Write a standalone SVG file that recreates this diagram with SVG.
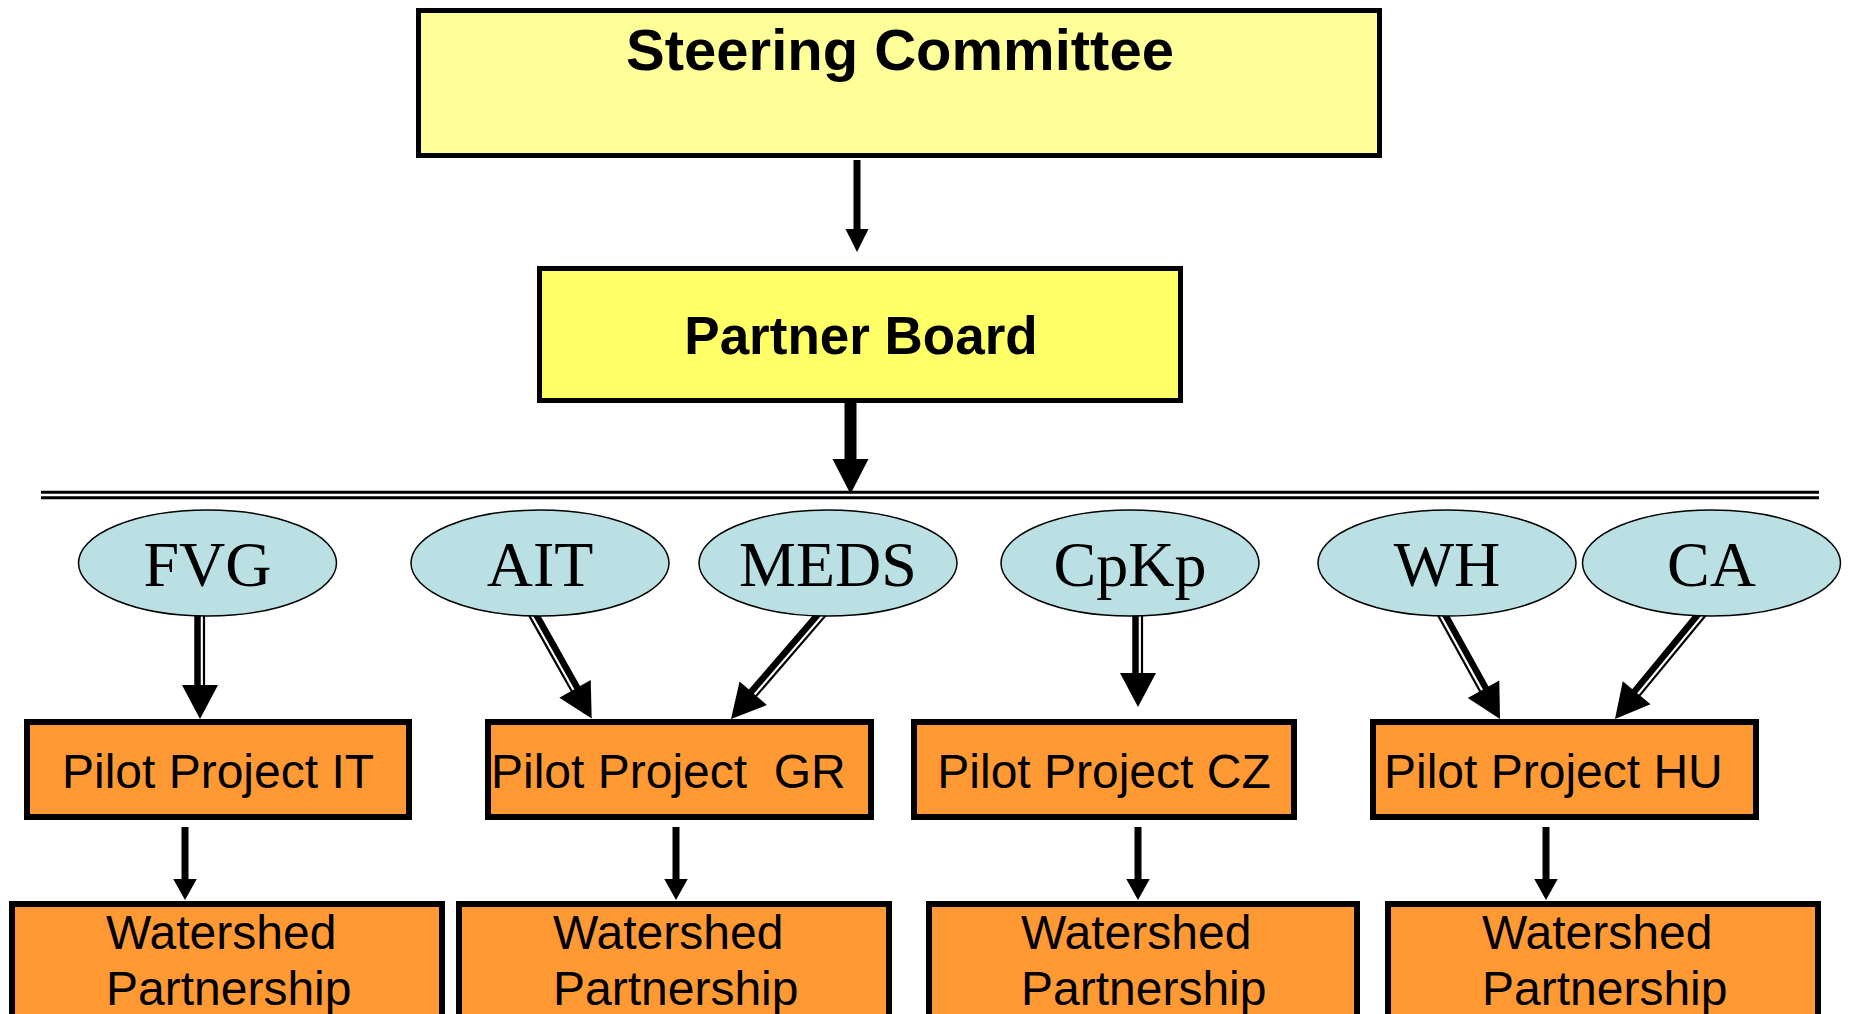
<svg xmlns="http://www.w3.org/2000/svg" width="1852" height="1014" viewBox="0 0 1852 1014">
<style>
.box{stroke:#000;stroke-width:5}
.pilot{fill:#FF9933;stroke:#000;stroke-width:6}
.ell{fill:#BAE0E3;stroke:#000;stroke-width:1.5}
.sans{font-family:"Liberation Sans",Arial,sans-serif;fill:#000}
.bold{font-weight:bold}
.serif{font-family:"Liberation Serif","Times New Roman",serif;font-size:64px;fill:#000;text-anchor:middle}
.lbl{font-size:48px}
.thick{stroke:#000;stroke-width:6.5;fill:none}
.thin{stroke:#000;stroke-width:2.2;fill:none}
.head{fill:#000}
</style>
<defs>
<polygon id="dhead" points="-18,-34 18,-34 0,0"/>
<polygon id="shead" points="-11.75,-21 11.75,-21 0,0"/>
</defs>
<g id="connectors">
<line x1="857" y1="160" x2="857" y2="231" stroke="#000" stroke-width="7"/>
<polygon class="head" points="845.5,229 868.5,229 857,252"/>
<line x1="850.5" y1="403" x2="850.5" y2="461" stroke="#000" stroke-width="12"/>
<polygon class="head" points="832.5,459 868.5,459 850.5,494"/>
<line x1="41" y1="492.3" x2="1819" y2="492.3" stroke="#000" stroke-width="3"/>
<line x1="41" y1="497.8" x2="1819" y2="497.8" stroke="#000" stroke-width="3"/>
<g transform="translate(200,719)">
<line class="thick" x1="-2.5" y1="-112" x2="-2.5" y2="-32"/>
<line class="thin" x1="4" y1="-112" x2="4" y2="-32"/>
<use href="#dhead" class="head"/>
</g>
<g transform="translate(591.7,718.5) rotate(-29.37)">
<line class="thick" x1="2.5" y1="-124" x2="2.5" y2="-32"/>
<line class="thin" x1="-4" y1="-124" x2="-4" y2="-32"/>
<use href="#dhead" class="head"/>
</g>
<g transform="translate(731,719) rotate(40.79)">
<line class="thick" x1="-2.5" y1="-141" x2="-2.5" y2="-32"/>
<line class="thin" x1="4" y1="-141" x2="4" y2="-32"/>
<use href="#dhead" class="head"/>
</g>
<g transform="translate(1138,707)">
<line class="thick" x1="-2.5" y1="-97" x2="-2.5" y2="-32"/>
<line class="thin" x1="4" y1="-97" x2="4" y2="-32"/>
<use href="#dhead" class="head"/>
</g>
<g transform="translate(1500,719) rotate(-28.95)">
<line class="thick" x1="2.5" y1="-124" x2="2.5" y2="-32"/>
<line class="thin" x1="-4" y1="-124" x2="-4" y2="-32"/>
<use href="#dhead" class="head"/>
</g>
<g transform="translate(1615,719) rotate(39.53)">
<line class="thick" x1="-2.5" y1="-140" x2="-2.5" y2="-32"/>
<line class="thin" x1="4" y1="-140" x2="4" y2="-32"/>
<use href="#dhead" class="head"/>
</g>
<g transform="translate(185,900)">
<line x1="0" y1="-73" x2="0" y2="-19" stroke="#000" stroke-width="7"/>
<use href="#shead" class="head"/>
</g>
<g transform="translate(676,900)">
<line x1="0" y1="-73" x2="0" y2="-19" stroke="#000" stroke-width="7"/>
<use href="#shead" class="head"/>
</g>
<g transform="translate(1138,900)">
<line x1="0" y1="-73" x2="0" y2="-19" stroke="#000" stroke-width="7"/>
<use href="#shead" class="head"/>
</g>
<g transform="translate(1546,900)">
<line x1="0" y1="-73" x2="0" y2="-19" stroke="#000" stroke-width="7"/>
<use href="#shead" class="head"/>
</g>
</g>
<g id="steering">
<rect class="box" x="418.5" y="10.5" width="961" height="145" fill="#FFFF99"/>
<text class="sans bold" x="900" y="70" font-size="58" text-anchor="middle">Steering Committee</text>
</g>
<g id="partner">
<rect class="box" x="539.5" y="268.5" width="641" height="132" fill="#FFFF66"/>
<text class="sans bold" x="861" y="354" font-size="53" text-anchor="middle">Partner Board</text>
</g>
<g id="fvg"><ellipse class="ell" cx="207.5" cy="563" rx="129" ry="53"/><text class="serif" x="207.5" y="586">FVG</text></g>
<g id="ait"><ellipse class="ell" cx="540" cy="563" rx="129" ry="53"/><text class="serif" x="540" y="586">AIT</text></g>
<g id="meds"><ellipse class="ell" cx="828" cy="563" rx="129" ry="53"/><text class="serif" x="828" y="586">MEDS</text></g>
<g id="cpkp"><ellipse class="ell" cx="1130" cy="563" rx="129" ry="53"/><text class="serif" x="1130" y="586">CpKp</text></g>
<g id="wh"><ellipse class="ell" cx="1447" cy="563" rx="129" ry="53"/><text class="serif" x="1447" y="586">WH</text></g>
<g id="ca"><ellipse class="ell" cx="1711.5" cy="563" rx="129" ry="53"/><text class="serif" x="1711.5" y="586">CA</text></g>
<g id="pilot-it"><rect class="pilot" x="27" y="722" width="382" height="95"/><text class="sans lbl" x="218" y="788" text-anchor="middle">Pilot Project IT</text></g>
<g id="pilot-gr"><rect class="pilot" x="488" y="722" width="383" height="95"/><text class="sans lbl" x="491" y="788" xml:space="preserve">Pilot Project  GR</text></g>
<g id="pilot-cz"><rect class="pilot" x="914" y="722" width="380" height="95"/><text class="sans lbl" x="1104" y="788" text-anchor="middle">Pilot Project CZ</text></g>
<g id="pilot-hu"><rect class="pilot" x="1373" y="722" width="383" height="95"/><text class="sans lbl" x="1384" y="788">Pilot Project HU</text></g>
<g id="ws-it"><rect class="pilot" x="12" y="904" width="430" height="140"/><text class="sans lbl" x="106" y="949">Watershed</text><text class="sans lbl" x="106" y="1005">Partnership</text></g>
<g id="ws-gr"><rect class="pilot" x="459" y="904" width="430" height="140"/><text class="sans lbl" x="553" y="949">Watershed</text><text class="sans lbl" x="553" y="1005">Partnership</text></g>
<g id="ws-cz"><rect class="pilot" x="929" y="904" width="428" height="140"/><text class="sans lbl" x="1021" y="949">Watershed</text><text class="sans lbl" x="1021" y="1005">Partnership</text></g>
<g id="ws-hu"><rect class="pilot" x="1388" y="904" width="430" height="140"/><text class="sans lbl" x="1482" y="949">Watershed</text><text class="sans lbl" x="1482" y="1005">Partnership</text></g>
</svg>
